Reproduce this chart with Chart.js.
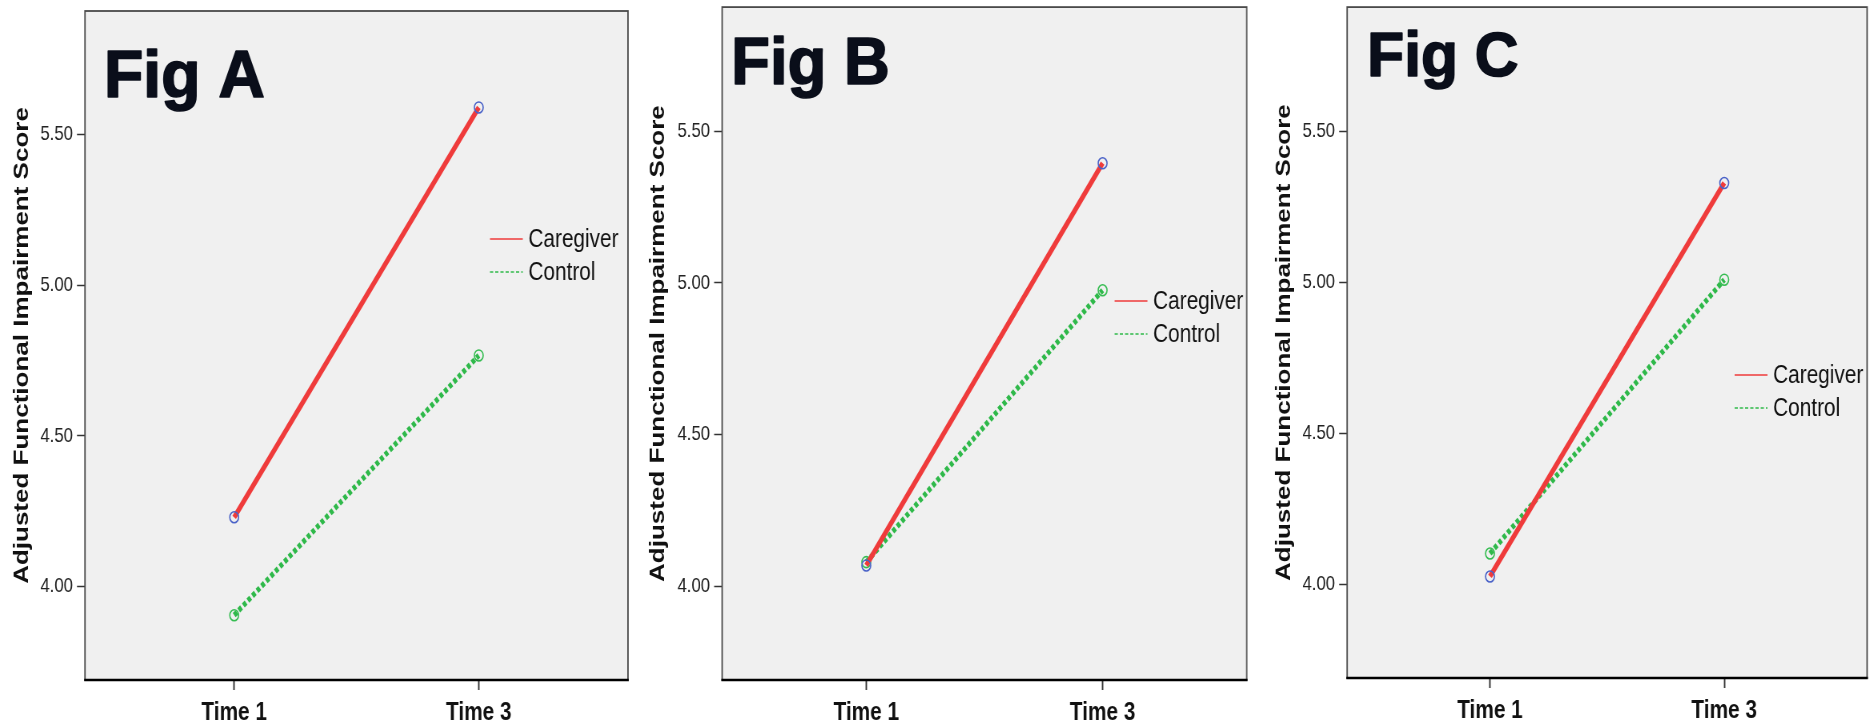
<!DOCTYPE html>
<html>
<head>
<meta charset="utf-8">
<script src="https://cdn.jsdelivr.net/npm/chart.js@4"></script>
<style>
  html, body { margin: 0; padding: 0; background: #fff; }
  #wrap { position: relative; width: 1872px; height: 723px; overflow: hidden; }
  .panel { position: absolute; top: 0; height: 723px; overflow: hidden; }
  /* the original figure is squeezed sideways, so every panel is drawn wide and narrowed */
  .squeeze { position: absolute; left: 0; top: 0; height: 723px; transform: scaleX(0.8); transform-origin: 0 0; }
</style>
</head>
<body>
<div id="wrap">
  <div class="panel" style="left:0;width:636px"><div class="squeeze" style="width:795px"><canvas id="figA"></canvas></div></div>
  <div class="panel" style="left:636px;width:626px"><div class="squeeze" style="width:782.5px"><canvas id="figB"></canvas></div></div>
  <div class="panel" style="left:1262px;width:610px"><div class="squeeze" style="width:762.5px"><canvas id="figC"></canvas></div></div>
</div>
<script>
// values
const timeLabels = ['Time 1', 'Time 3'];
const yTicks = [4.00, 4.50, 5.00, 5.50];
const yMin = 3.69;
const yMax = 5.91;
const groupNames = ['Caregiver', 'Control'];
const figNames = ['Fig A', 'Fig B', 'Fig C'];

const caregiverA = [4.23, 5.59];
const controlA = [3.905, 4.767];
const caregiverB = [4.068, 5.395];
const controlB = [4.079, 4.976];
const caregiverC = [4.026, 5.328];
const controlC = [4.102, 5.008];

const K = 0.8; // horizontal squeeze (matches .squeeze)
const SANS = "'Liberation Sans', Arial, sans-serif";
const RED = '#ef3b3b';
const GREEN = '#2fb94a';

function toPoints(vals) {
  return vals.map((v, i) => ({ x: i, y: v }));
}

// grey plot box + frame
const framePlugin = {
  id: 'frame',
  beforeDraw(chart) {
    const { ctx, chartArea: a } = chart;
    ctx.save();
    ctx.fillStyle = '#f0f0f0';
    ctx.fillRect(a.left, a.top, a.right - a.left, a.bottom - a.top);
    ctx.restore();
  },
  afterDraw(chart) {
    const { ctx, chartArea: a } = chart;
    ctx.save();
    ctx.strokeStyle = '#4a4a4a';
    ctx.lineWidth = 1.8;
    ctx.strokeRect(a.left, a.top, a.right - a.left, a.bottom - a.top);
    ctx.strokeStyle = '#000';
    ctx.lineWidth = 2.5;
    ctx.beginPath();
    ctx.moveTo(a.left - 1, a.bottom);
    ctx.lineTo(a.right + 1, a.bottom);
    ctx.stroke();
    ctx.restore();
  }
};

// legend inside the plot
const sideLegend = {
  id: 'sideLegend',
  afterDatasetsDraw(chart, args, opts) {
    const { ctx, chartArea: a } = chart;
    const x = a.left + opts.x;
    const y = a.top + opts.y;
    chart.data.datasets.forEach((ds, i) => {
      const yy = y + i * 33;
      ctx.save();
      ctx.strokeStyle = ds.borderColor;
      ctx.lineWidth = 1.5;
      ctx.setLineDash(ds.borderDash ? [4, 2.5] : []);
      ctx.beginPath();
      ctx.moveTo(x, yy);
      ctx.lineTo(x + 41, yy);
      ctx.stroke();
      ctx.setLineDash([]);
      ctx.fillStyle = '#111';
      ctx.font = '26px ' + SANS;
      ctx.textBaseline = 'middle';
      ctx.fillText(ds.label, x + 48, yy + 1);
      ctx.restore();
    });
  }
};

// big "Fig X" label, drawn un-squeezed
const figLabel = {
  id: 'figLabel',
  afterDatasetsDraw(chart, args, opts) {
    const { ctx, chartArea: a } = chart;
    ctx.save();
    ctx.translate(a.left + opts.x, a.top + opts.y);
    ctx.scale(opts.stretch, 1);
    ctx.fillStyle = '#0a0e1a';
    ctx.strokeStyle = '#0a0e1a';
    ctx.lineWidth = 1.6;
    ctx.lineJoin = 'round';
    ctx.font = 'bold ' + opts.size + 'px ' + SANS;
    ctx.textBaseline = 'alphabetic';
    ctx.fillText(opts.text, 0, 0);
    ctx.strokeText(opts.text, 0, 0);
    ctx.restore();
  }
};

function makeChart(id, name, caregiver, control, lay) {
  new Chart(document.getElementById(id), {
    type: 'line',
    data: {
      datasets: [
        {
          label: groupNames[0],
          data: toPoints(caregiver),
          borderColor: RED,
          borderWidth: 5.5,
          pointRadius: 5.5,
          pointBorderWidth: 1.6,
          pointBorderColor: '#4a62c8',
          pointBackgroundColor: 'rgba(0,0,0,0)',
        },
        {
          label: groupNames[1],
          data: toPoints(control),
          borderColor: GREEN,
          borderWidth: 5.5,
          borderDash: [4.5, 3],
          pointRadius: 5.5,
          pointBorderWidth: 1.6,
          pointBorderColor: '#36bd52',
          pointBackgroundColor: 'rgba(0,0,0,0)',
        },
      ],
    },
    plugins: [framePlugin, sideLegend, figLabel],
    options: {
      responsive: true,
      maintainAspectRatio: false,
      animation: false,
      layout: { padding: { top: lay.top, right: lay.right / K, left: 0, bottom: 0 } },
      scales: {
        x: {
          type: 'linear',
          min: -0.61,
          max: 1.61,
          afterBuildTicks: (s) => { s.ticks = timeLabels.map((_, i) => ({ value: i })); },
          afterFit: (s) => {
            s.height = lay.xh;
            s.paddingLeft = 0; s.paddingRight = 0;
          },
          ticks: {
            callback: (v) => timeLabels[v],
            color: '#111',
            padding: 7,
            maxRotation: 0,
            font: { family: SANS, size: 26, weight: 'bold' },
          },
          grid: { drawOnChartArea: false, tickLength: 10, tickColor: '#333', tickWidth: 1.9 },
          border: { display: false },
        },
        y: {
          min: yMin,
          max: yMax,
          afterBuildTicks: (s) => { s.ticks = yTicks.map((v) => ({ value: v })); },
          afterFit: (s) => {
            s.width = lay.yw / K;
            s.paddingTop = 0; s.paddingBottom = 0;
          },
          ticks: {
            callback: (v) => v.toFixed(2),
            color: '#222',
            padding: 5,
            font: { family: SANS, size: 21 },
          },
          grid: { drawOnChartArea: false, tickLength: 10, tickColor: '#333', tickWidth: 1.5 },
          border: { display: false },
          title: {
            display: true,
            text: 'Adjusted Functional Impairment Score',
            color: '#111',
            padding: { top: 12, bottom: 0 },
            font: { family: SANS, size: 26, weight: 'bold' },
          },
        },
      },
      plugins: {
        legend: { display: false },
        tooltip: { enabled: false },
        sideLegend: { x: lay.lx / K, y: lay.ly },
        figLabel: { text: name, x: lay.fx / K, y: lay.fy, size: lay.fs, stretch: 1.2 },
      },
    },
  });
}

makeChart('figA', figNames[0], caregiverA, controlA,
  { yw: 85, top: 11, right: 8, xh: 43, lx: 405, ly: 228, fx: 19, fy: 86, fs: 67 });
makeChart('figB', figNames[1], caregiverB, controlB,
  { yw: 86, top: 6, right: 16, xh: 43, lx: 392, ly: 294, fx: 9, fy: 77, fs: 66 });
makeChart('figC', figNames[2], caregiverC, controlC,
  { yw: 85, top: 5, right: 3, xh: 45, lx: 387, ly: 368, fx: 20, fy: 69, fs: 63 });
</script>
</body>
</html>
